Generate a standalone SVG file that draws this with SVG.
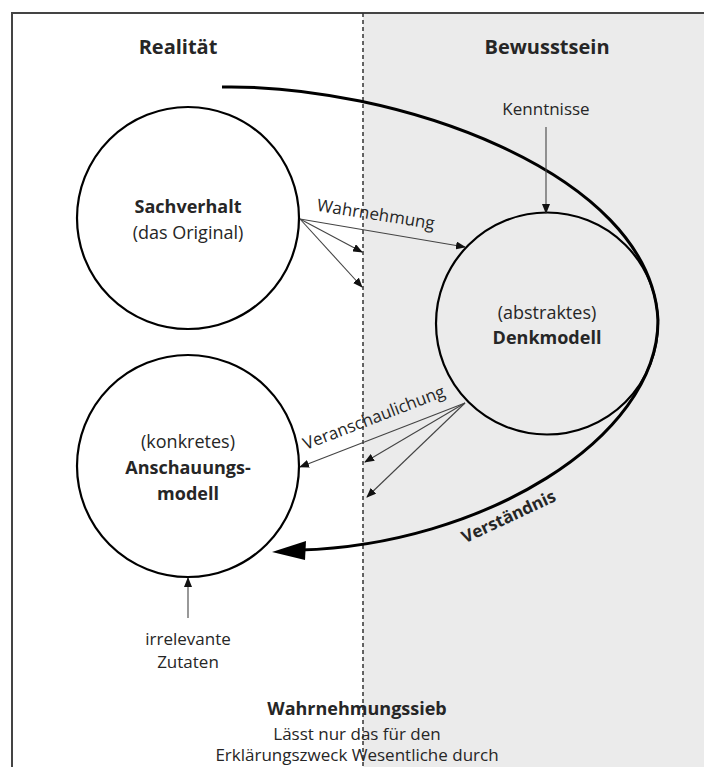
<svg xmlns="http://www.w3.org/2000/svg" width="704" height="767" viewBox="0 0 704 767">
<style>
text{font-family:"Open Sans","Liberation Sans",sans-serif;fill:#262626;text-anchor:middle}
.b{font-weight:bold}
.h{font-size:20px;font-weight:bold}
.n{font-size:18px}
.l{font-size:17px}
.node{fill:none;stroke:#000;stroke-width:2.2}
.thin{fill:none;stroke:#444;stroke-width:1.1;marker-end:url(#ah)}
</style>
<defs>
<marker id="ah" markerWidth="10" markerHeight="8" refX="9" refY="4" orient="auto" markerUnits="userSpaceOnUse">
<path d="M0,0 L10,4 L0,8 z" fill="#111"/>
</marker>
</defs>
<rect x="363" y="13" width="341" height="754" fill="#ebebeb"/>
<path d="M12,767 V13 H704" fill="none" stroke="#444" stroke-width="2"/>
<line x1="363" y1="13" x2="363" y2="767" stroke="#333" stroke-width="1.5" stroke-dasharray="4 3"/>
<text class="h" x="178" y="54">Realität</text>
<text class="h" x="547" y="54">Bewusstsein</text>
<g id="sachverhalt">
<circle class="node" cx="188" cy="218" r="111"/>
<text class="n b" x="188" y="213">Sachverhalt</text>
<text class="n" x="188" y="239">(das Original)</text>
</g>
<g id="denkmodell">
<circle class="node" cx="547" cy="323.5" r="111"/>
<text class="n" x="547" y="319">(abstraktes)</text>
<text class="n b" x="547" y="344">Denkmodell</text>
</g>
<g id="anschauungsmodell">
<circle class="node" cx="188" cy="466" r="111"/>
<text class="n" x="188" y="448">(konkretes)</text>
<text class="n b" x="188" y="474">Anschauungs-</text>
<text class="n b" x="188" y="500">modell</text>
</g>
<g id="kenntnisse">
<text class="l" x="546" y="115">Kenntnisse</text>
</g>
<g id="zutaten">
<text class="l" x="188" y="645">irrelevante</text>
<text class="l" x="188" y="668">Zutaten</text>
</g>
<g id="sieb">
<text class="n b" x="357" y="715">Wahrnehmungssieb</text>
<text class="l" x="357" y="740">Lässt nur das für den</text>
<text class="l" x="357" y="761">Erklärungszweck Wesentliche durch</text>
</g>
<g id="connectors">
<path d="M222,87 C390,84 650,170 658,320 C658,440 480,545 300,550" fill="none" stroke="#000" stroke-width="3"/>
<path d="M272,552 L306,541 L305,560 z" fill="#000"/>
<text class="l b" transform="translate(511,522) rotate(-25)">Verständnis</text>
<line class="thin" x1="546" y1="127" x2="546" y2="213"/>
<line class="thin" x1="188" y1="618" x2="188" y2="578"/>
<line class="thin" x1="300" y1="219" x2="465" y2="247"/>
<line class="thin" x1="300" y1="219" x2="362" y2="252"/>
<line class="thin" x1="300" y1="219" x2="362" y2="287"/>
<text class="l" transform="translate(375,220) rotate(9)">Wahrnehmung</text>
<line class="thin" x1="465" y1="403" x2="300" y2="467"/>
<line class="thin" x1="465" y1="403" x2="365" y2="462"/>
<line class="thin" x1="465" y1="403" x2="367" y2="497"/>
<text class="l" transform="translate(376,423) rotate(-21)">Veranschaulichung</text>
</g>
</svg>
